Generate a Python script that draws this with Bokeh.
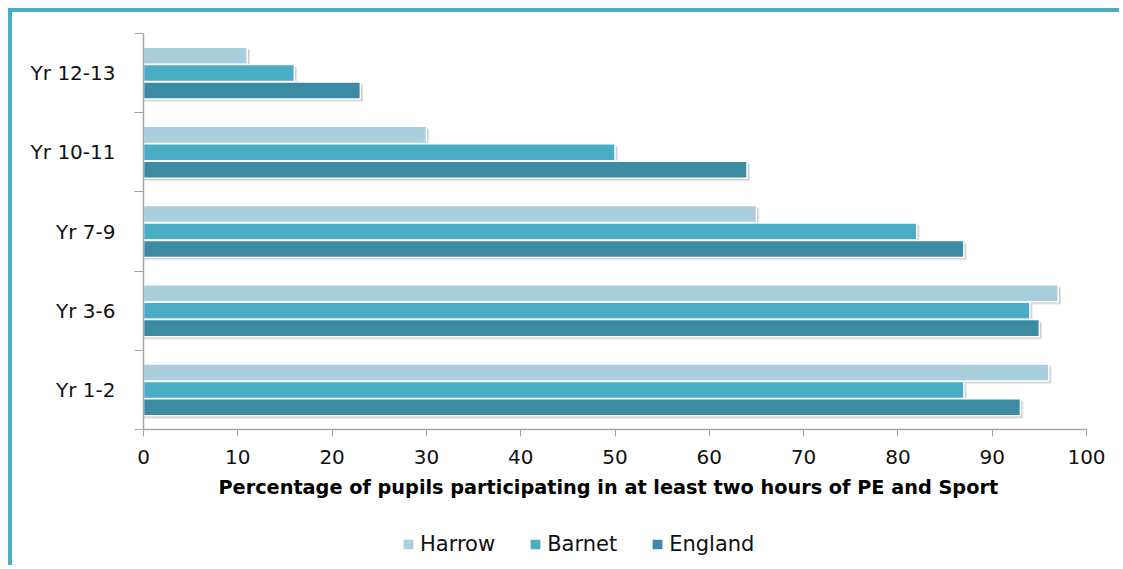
from bokeh.plotting import figure
from bokeh.models import (ColumnDataSource, Range1d, FixedTicker, Legend, LegendItem)
from bokeh.transform import dodge
from bokeh.embed import file_html
from bokeh.resources import INLINE

# ---- data ----
categories = ["Yr 1-2", "Yr 3-6", "Yr 7-9", "Yr 10-11", "Yr 12-13"]
harrow = [96, 97, 65, 30, 11]
barnet = [87, 94, 82, 50, 16]
england = [93, 95, 87, 64, 23]
x_ticks = [0, 10, 20, 30, 40, 50, 60, 70, 80, 90, 100]
series_names = ["Harrow", "Barnet", "England"]
axis_title = "Percentage  of pupils participating  in at least two hours of PE and Sport"

colors = {"Harrow": "#A9CFDD", "Barnet": "#4BACC6", "England": "#3C8BA4"}
offsets = {"Harrow": 0.22, "Barnet": 0.0, "England": -0.22}

# ---- layout (pixels on the canvas) ----
W, H = 1111, 557
px_x0, px_x100 = 131, 1074      # canvas x of value 0 and value 100
px_top, px_axis = 21, 417       # canvas y of top band edge and of the x axis
ux = (px_x100 - px_x0) / 100.0
uy = (px_axis - px_top) / len(categories)
x_lo, x_hi = -px_x0 / ux, 100 + (W - px_x100) / ux
y_lo, y_hi = -(H - px_axis) / uy, len(categories) + px_top / uy

pos = [i + 0.5 for i in range(len(categories))]
src = ColumnDataSource(dict(pos=pos, cat=categories, Harrow=harrow, Barnet=barnet, England=england))

p = figure(width=W, height=H, x_range=Range1d(x_lo, x_hi), y_range=Range1d(y_lo, y_hi),
           output_backend="svg", toolbar_location=None, min_border=0)
p.styles = {"border-left": "4px solid #4BACC6", "border-top": "4px solid #4BACC6",
            "margin-left": "8px", "margin-top": "8px"}
p.outline_line_color = None
p.xgrid.grid_line_color = None
p.ygrid.grid_line_color = None
p.background_fill_color = "white"
p.border_fill_color = "white"

FONT = "DejaVu Sans"
renderers = {}
for name in series_names:
    # soft shadow
    p.hbar(y=dodge("pos", offsets[name] - 0.035, range=p.y_range), right=dodge(name, 0.3, range=p.x_range),
           left=0, height=0.215, fill_color="#000000", fill_alpha=0.10, line_color=None, source=src)
    p.hbar(y=dodge("pos", offsets[name] - 0.02, range=p.y_range), right=dodge(name, 0.18, range=p.x_range),
           left=0, height=0.215, fill_color="#000000", fill_alpha=0.12, line_color=None, source=src)
for name in series_names:
    renderers[name] = p.hbar(y=dodge("pos", offsets[name], range=p.y_range), right=name, left=0,
                             height=0.215, fill_color=colors[name], line_color="white", line_width=1.5,
                             source=src)

# x axis, drawn at y = 0
xa = p.xaxis[0]
xa.fixed_location = 0
xa.bounds = (0, 100)
xa.ticker = FixedTicker(ticks=x_ticks)
xa.minor_tick_line_color = None
xa.major_tick_out = 7
xa.major_tick_in = 0
xa.axis_line_color = "#A6A6A6"
xa.major_tick_line_color = "#A6A6A6"
xa.axis_line_width = 1.5
xa.major_label_text_font = FONT
xa.major_label_text_font_size = "20px"
xa.major_label_text_color = "#111111"
xa.major_label_standoff = 13
xa.axis_label = axis_title
xa.axis_label_text_font = FONT
xa.axis_label_text_font_style = "bold"
xa.axis_label_text_font_size = "19.3px"
xa.axis_label_text_color = "#000000"
xa.axis_label_standoff = 9

# y axis, drawn at x = 0
ya = p.yaxis[0]
ya.fixed_location = 0
ya.bounds = (0, len(categories))
ya.ticker = FixedTicker(ticks=pos, minor_ticks=list(range(len(categories) + 1)))
ya.major_label_overrides = {pp: c for pp, c in zip(pos, categories)}
ya.major_tick_line_color = None
ya.major_tick_out = 0
ya.major_tick_in = 0
ya.minor_tick_out = 9
ya.minor_tick_in = 0
ya.minor_tick_line_color = "#A6A6A6"
ya.axis_line_color = "#A6A6A6"
ya.axis_line_width = 1.5
ya.major_label_text_font = FONT
ya.major_label_text_font_size = "20px"
ya.major_label_text_color = "#111111"
ya.major_label_standoff = 19

legend = Legend(items=[LegendItem(label=n, renderers=[renderers[n]]) for n in series_names],
                orientation="horizontal", location=(389, 13),
                label_text_font=FONT, label_text_font_size="21px", label_text_color="#111111",
                glyph_width=14, glyph_height=14, label_standoff=5, spacing=33,
                padding=0, margin=0, border_line_color=None, background_fill_alpha=0,
                label_height=20)
p.add_layout(legend, "center")

open("out.html", "w").write(file_html(p, INLINE))
